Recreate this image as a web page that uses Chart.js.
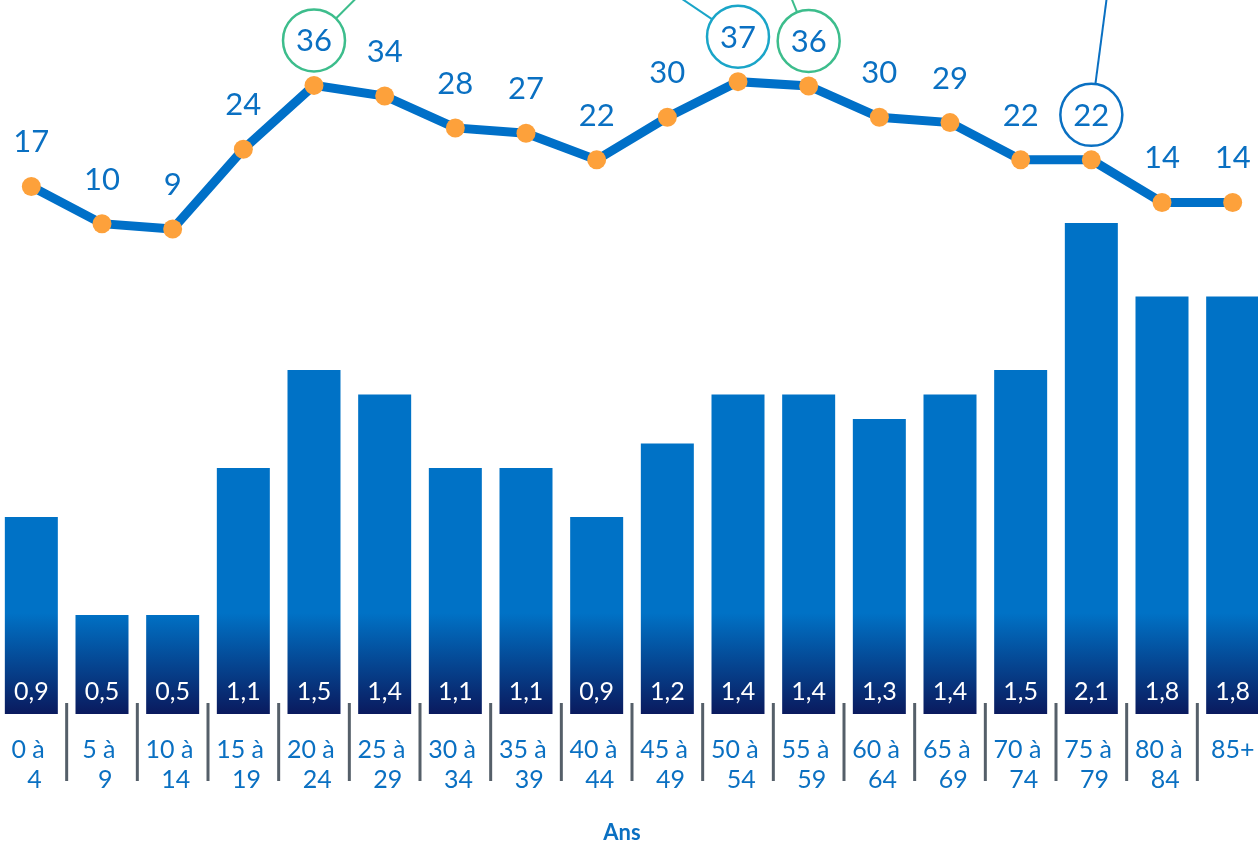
<!DOCTYPE html>
<html><head><meta charset="utf-8">
<script src="https://cdn.jsdelivr.net/npm/chart.js@4.4.1/dist/chart.umd.min.js"></script>
<style>
html,body{margin:0;padding:0;overflow:hidden;background:#fff;width:1258px;height:841px;}
#wrap{position:absolute;left:-4px;top:0;width:1272px;height:841px;}
</style></head>
<body><div id="wrap"><canvas id="c" width="1272" height="841"></canvas></div>
<script>
const ageGroups = ['0 à 4','5 à 9','10 à 14','15 à 19','20 à 24','25 à 29','30 à 34','35 à 39','40 à 44','45 à 49','50 à 54','55 à 59','60 à 64','65 à 69','70 à 74','75 à 79','80 à 84','85+'];
const barValues = [0.9,0.5,0.5,1.1,1.5,1.4,1.1,1.1,0.9,1.2,1.4,1.4,1.3,1.4,1.5,2.1,1.8,1.8];
const lineValues = [17,10,9,24,36,34,28,27,22,30,36.7,35.9,30,29,22,22,14,14];
const circledIndex = [4,10,11,15];
const circledColor = ['#3dbd8c','#1aa5c8','#3dbd8c','#0a70c2'];
const leaderAngle = [45,-56,-22,7.5];
const axisTitle = 'Ans';

const BLUE = '#0a70c2';
const tickLabels = ageGroups.map(s => {
  const p = s.split(' à ');
  return p.length === 2 ? [p[0] + ' à ', ' ' + p[1]] : s;
});

const overlay = {
  id: 'overlay',
  afterDatasetsDraw(chart) {
    const ctx = chart.ctx, ca = chart.chartArea, xs = chart.scales.x;
    ctx.save();
    ctx.strokeStyle = '#555f69';
    ctx.lineWidth = 3;
    for (let i = 1; i < ageGroups.length; i++) {
      const bx = (xs.getPixelForValue(i - 1) + xs.getPixelForValue(i)) / 2;
      ctx.beginPath();
      ctx.moveTo(bx, ca.bottom - 11);
      ctx.lineTo(bx, ca.bottom + 67);
      ctx.stroke();
    }
    const bm = chart.getDatasetMeta(1);
    ctx.fillStyle = '#ffffff';
    ctx.font = '25px Lato';
    ctx.textAlign = 'center';
    ctx.textBaseline = 'alphabetic';
    bm.data.forEach((el, i) => {
      ctx.fillText(barValues[i].toFixed(1).replace('.', ','), el.x, ca.bottom - 23 + 9);
    });
    const lm = chart.getDatasetMeta(0);
    ctx.font = '31px Lato';
    lm.data.forEach((el, i) => {
      const cy = el.y - 45;
      ctx.fillStyle = BLUE;
      ctx.fillText(String(Math.round(lineValues[i])), el.x, cy + 11);
      const k = circledIndex.indexOf(i);
      if (k >= 0) {
        const r = 31;
        ctx.strokeStyle = circledColor[k];
        ctx.lineWidth = 2.5;
        ctx.beginPath();
        ctx.arc(el.x, cy, r, 0, Math.PI * 2);
        ctx.stroke();
        const a = leaderAngle[k] * Math.PI / 180;
        const sx = el.x + r * Math.sin(a), sy = cy - r * Math.cos(a);
        const t = (sy + 2) / Math.cos(a);
        ctx.lineWidth = 2;
        ctx.beginPath();
        ctx.moveTo(sx, sy);
        ctx.lineTo(sx + t * Math.sin(a), sy - t * Math.cos(a));
        ctx.stroke();
      }
    });
    ctx.fillStyle = BLUE;
    ctx.font = 'bold 22px Lato';
    ctx.fillText(axisTitle, (ca.left + ca.right) / 2 - 10, ca.bottom + 126);
    ctx.restore();
  }
};

new Chart(document.getElementById('c'), {
  type: 'bar',
  data: {
    labels: tickLabels,
    datasets: [
      {
        type: 'line',
        data: lineValues,
        yAxisID: 'y2',
        order: 0,
        borderColor: '#0070c8',
        borderWidth: 9,
        tension: 0,
        pointRadius: 9.5,
        pointHoverRadius: 9.5,
        pointBackgroundColor: '#fda13b',
        pointBorderWidth: 0,
        clip: false
      },
      {
        type: 'bar',
        data: barValues,
        yAxisID: 'y',
        order: 1,
        barPercentage: 0.75,
        categoryPercentage: 1,
        backgroundColor: (c) => {
          const ch = c.chart, ca = ch.chartArea;
          if (!ca) return '#0072c6';
          const g = ch.ctx.createLinearGradient(0, ca.bottom - 101, 0, ca.bottom);
          g.addColorStop(0, '#0072c6');
          g.addColorStop(1, '#0a1a5e');
          return g;
        }
      }
    ]
  },
  options: {
    responsive: false,
    animation: false,
    devicePixelRatio: 1,
    layout: { padding: 0, autoPadding: false },
    plugins: { legend: { display: false }, tooltip: { enabled: false } },
    scales: {
      x: {
        offset: true,
        grid: { display: true, drawOnChartArea: false, drawTicks: true, tickLength: 21, color: 'rgba(0,0,0,0)' },
        border: { display: false },
        ticks: { color: BLUE, font: { family: 'Lato', size: 25, lineHeight: 1.2 }, padding: 0, maxRotation: 0, autoSkip: false },
        afterFit(s) { s.height = 127; }
      },
      y: { display: false, min: 0.096, max: 3.01 },
      y2: { display: false, min: -82.17, max: 52.05, position: 'right' }
    }
  },
  plugins: [overlay]
});
</script>
</body></html>
